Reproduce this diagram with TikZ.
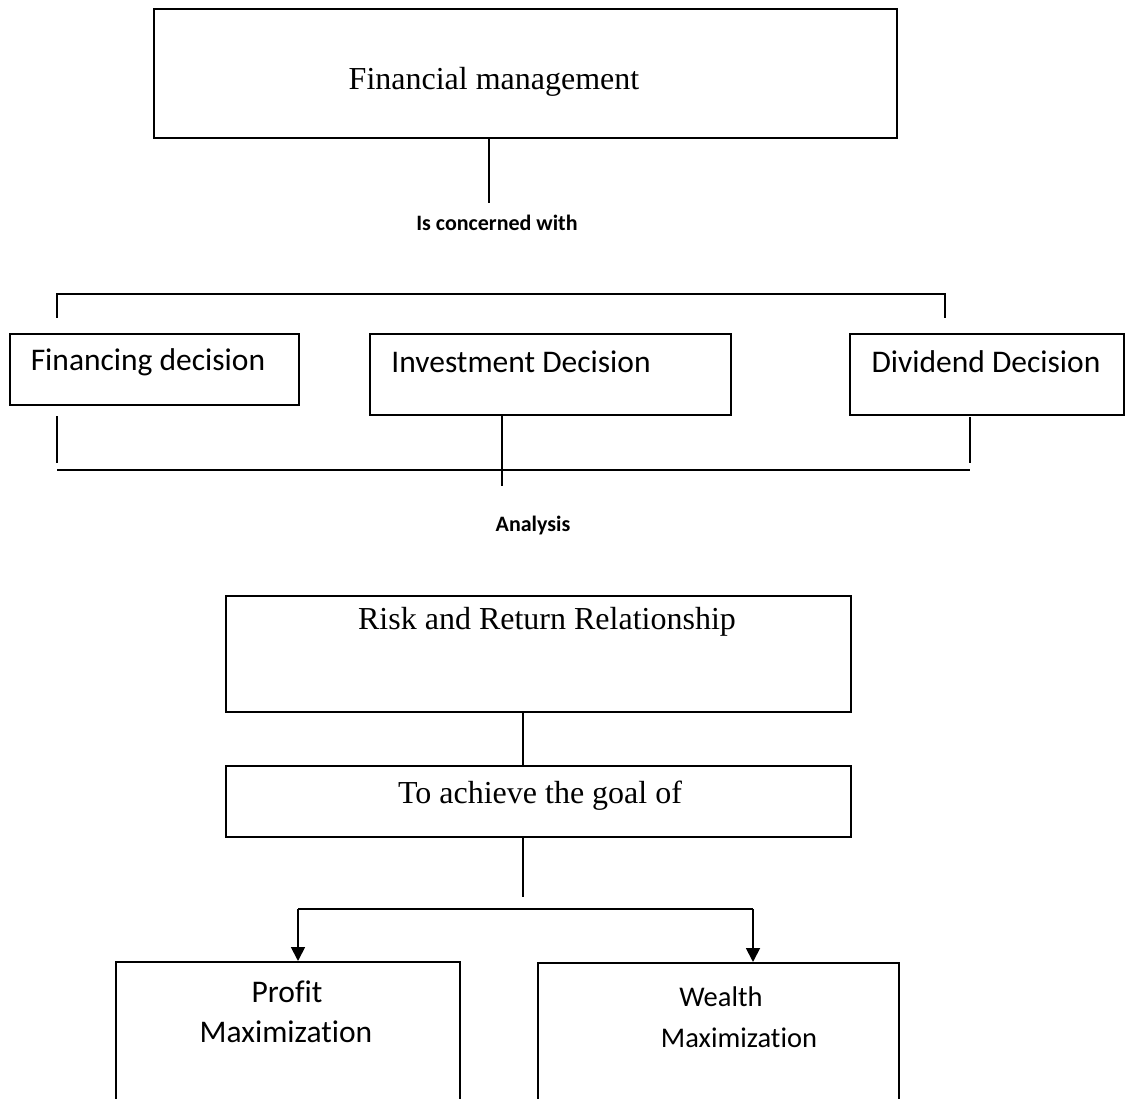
\documentclass[tikz,border=0pt]{standalone}
\usepackage{fontspec}
\setmainfont{Liberation Serif}
\newfontfamily\calfont[Ligatures={NoCommon}]{Carlito}
\usetikzlibrary{arrows.meta}
\begin{document}
\begin{tikzpicture}[x=1pt,y=-1pt,line width=1.8pt,
  box/.style={draw,rectangle,inner sep=0pt,anchor=north west},
  sertxt/.style={inner sep=0pt,font=\fontsize{32}{38}\selectfont},
  sanstxt/.style={inner sep=0pt,font=\calfont\fontsize{31.5}{38}\selectfont},
  smalltxt/.style={inner sep=0pt,font=\calfont\fontsize{28.5}{34}\selectfont},
  boldtxt/.style={inner sep=0pt,font=\calfont\bfseries\fontsize{22}{26}\selectfont},
  arr/.style={-{Triangle[width=14pt,length=14pt]}}]
\useasboundingbox (0,0) rectangle (1125,1099);
\clip (0,0) rectangle (1125,1099);
\fill[white] (0,0) rectangle (1125,1099);
% boxes
\node[box,minimum width=743pt,minimum height=129pt] (fm) at (153,8) {};
\node[box,minimum width=289pt,minimum height=71pt] (fin) at (9,333) {};
\node[box,minimum width=361pt,minimum height=81pt] (inv) at (369,333) {};
\node[box,minimum width=274pt,minimum height=81pt] (div) at (849,333) {};
\node[box,minimum width=625pt,minimum height=116pt] (risk) at (225,595) {};
\node[box,minimum width=625pt,minimum height=71pt] (goal) at (225,765) {};
\node[box,minimum width=344pt,minimum height=170pt] (profit) at (115,961) {};
\node[box,minimum width=361pt,minimum height=170pt] (wealth) at (537,962) {};
% texts
\node[sertxt] (tfm) at (494,82) {Financial management};
\node[boldtxt] (ic) at (497,223) {Is concerned with};
\node[sanstxt] (tfin) at (148,362) {Financing decision};
\node[sanstxt] (tinv) at (521,362) {Investment Decision};
\node[sanstxt] (tdiv) at (986,362) {Dividend Decision};
\node[boldtxt] (an) at (533,526) {Analysis};
\node[sertxt] (trisk) at (547,622) {Risk and Return Relationship};
\node[sertxt] (tgoal) at (540,796) {To achieve the goal of};
\node[sanstxt] (tp1) at (287,992) {Profit};
\node[sanstxt] (tp2) at (286,1032) {Maximization};
\node[smalltxt] (tw1) at (721,997) {Wealth};
\node[smalltxt] (tw2) at (739,1038) {Maximization};
% coordinates
\coordinate (c1) at (489,203);
\coordinate (tbl) at (57,294);
\coordinate (tbr) at (945,294);
\coordinate (tbld) at (57,318);
\coordinate (tbrd) at (945,318);
\coordinate (bbl1) at (57,416);
\coordinate (bbl2) at (57,463);
\coordinate (bbr1) at (970,417);
\coordinate (bbr2) at (970,463);
\coordinate (bh1) at (57,470);
\coordinate (bh2) at (970,470);
\coordinate (bc) at (502,486);
\coordinate (g1) at (523,897);
\coordinate (h1) at (298,909);
\coordinate (h2) at (753,909);
% connectors
\draw (fm.south -| c1) -- (c1);
\draw (tbld) -- (tbl) -- (tbr) -- (tbrd);
\draw (bbl1) -- (bbl2);
\draw (bbr1) -- (bbr2);
\draw (bh1) -- (bh2);
\draw (inv.south -| bc) -- (bc);
\draw (risk.south -| g1) -- (goal.north -| g1);
\draw (goal.south -| g1) -- (g1);
\draw (h1) -- (h2);
\draw[arr] (h1) -- (profit.north -| h1);
\draw[arr] (h2) -- (wealth.north -| h2);
\end{tikzpicture}
\end{document}
